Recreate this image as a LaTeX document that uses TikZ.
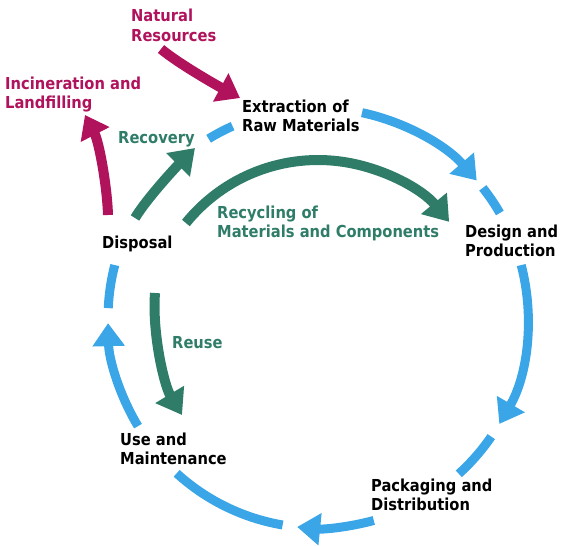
\documentclass[tikz,border=0pt]{standalone}
\usepackage{fontspec}
\setmainfont{DejaVu Sans}[FakeStretch=0.89]
\usetikzlibrary{arrows.meta}
\definecolor{cycblue}{HTML}{3BA6E7}
\definecolor{recgreen}{HTML}{2F7D68}
\definecolor{wastered}{HTML}{B0125C}
\begin{document}
\begin{tikzpicture}[x=1pt,y=-1pt,
  lbl/.style={font=\bfseries\fontsize{16.5}{19.5}\selectfont, inner sep=0pt, anchor=base west, align=left},
  stage/.style={lbl, text=black},
  greenlbl/.style={lbl, text=recgreen},
  redlbl/.style={lbl, text=wastered},
  ring/.style={draw=cycblue, line width=9pt},
  ringarrow/.style={ring, -{Triangle[width=31pt,length=23pt]}},
  greenarrow/.style={draw=recgreen, line width=10pt, -{Triangle[width=32pt,length=24pt]}},
  redarrow/.style={draw=wastered, line width=10pt, -{Triangle[width=31pt,length=22pt]}},
]
\useasboundingbox (0,0) rectangle (581,546);

% labels (anchor at baseline of the last line)
\node[redlbl]   (natural)   at (131,41)    {Natural\\Resources};
\node[redlbl]   (incin)     at (5,108.5)   {Incineration and\\Landfilling};
\node[stage]    (extract)   at (242,131.5) {Extraction of\\Raw Materials};
\node[greenlbl] (recovery)  at (118,143)   {Recovery};
\node[greenlbl] (recycling) at (217,237.5) {Recycling of\\Materials and Components};
\node[stage]    (disposal)  at (102,248)   {Disposal};
\node[stage]    (design)    at (465,256.5) {Design and\\Production};
\node[greenlbl] (reuse)     at (172,348)   {Reuse};
\node[stage]    (use)       at (120,464.5) {Use and\\Maintenance};
\node[stage]    (packaging) at (371,510.5) {Packaging and\\Distribution};

% blue life-cycle ring
\coordinate (C) at (318,318);
\draw[ring]      (C) ++(121.4:210pt) arc[start angle=121.4, end angle=114,    radius=210pt];
\draw[ringarrow] (C) ++(77.9:210pt)  arc[start angle=77.9,  end angle=40.9,   radius=210pt];
\draw[ring]      (C) ++(38.3:210pt)  arc[start angle=38.3,  end angle=30,     radius=210pt];
\draw[ringarrow] (C) ++(14.6:210pt)  arc[start angle=14.6,  end angle=-30.3,  radius=210pt];
\draw[ring]      (C) ++(-34.4:210pt) arc[start angle=-34.4, end angle=-47.9,  radius=210pt];
\draw[ringarrow] (C) ++(-74.6:210pt) arc[start angle=-74.6, end angle=-95.7,  radius=210pt];
\draw[ring]      (C) ++(-99.7:210pt) arc[start angle=-99.7, end angle=-132.3, radius=210pt];
\draw[ringarrow] (C) ++(-149:210pt)  arc[start angle=-149,  end angle=-178.6, radius=210pt];
\draw[ring]      (C) ++(177.3:210pt) arc[start angle=177.3, end angle=165.4,  radius=210pt];

% magenta arrows
\coordinate (natS) at (161,49);
\coordinate (natE) at (240,98);
\draw[redarrow] (natS) .. controls (179,64) and (218,86) .. (natE);
\coordinate (incS) at (108,215);
\coordinate (incE) at (85,115);
\draw[redarrow] (incS) .. controls (107,185) and (99,142) .. (incE);

% green arrows
\coordinate (recS) at (135,218);
\coordinate (recE) at (195,148);
\draw[greenarrow] (recS) .. controls (147,198) and (177,166) .. (recE);
\coordinate (G) at (318,330);
\draw[greenarrow] (G) ++(141:170pt) arc[start angle=141, end angle=39.5, radius=170pt];
\coordinate (reuS) at (155,293);
\coordinate (reuE) at (182,415);
\draw[greenarrow] (reuS) .. controls (152,333) and (164,385) .. (reuE);
\end{tikzpicture}
\end{document}
